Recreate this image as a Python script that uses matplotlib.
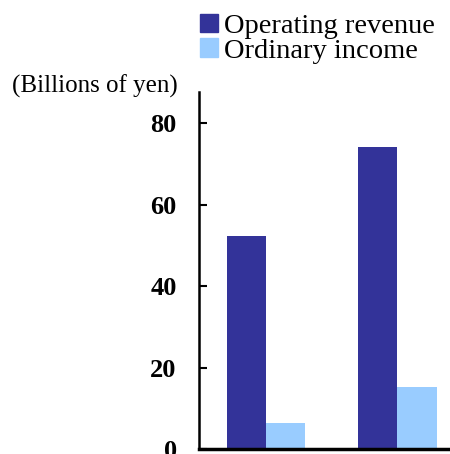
import matplotlib
matplotlib.use('Agg')
import matplotlib.pyplot as plt
from matplotlib.patches import Patch

# data
categories = ['Previous year', 'Current year']
series_names = ['Operating revenue', 'Ordinary income']
operating_revenue = [52.3, 74.2]
ordinary_income = [6.5, 15.3]
yticks = [0, 20, 40, 60, 80]

dark = '#333399'
light = '#99ccff'

plt.rcParams['font.family'] = ['Liberation Serif', 'DejaVu Serif']

fig = plt.figure(figsize=(4.5, 4.54), dpi=100)
ax = fig.add_axes([0.442, 0.011, 0.558, 0.786])

x = list(range(len(categories)))
w = 0.30
ax.bar([i - w / 2 for i in x], operating_revenue, width=w, color=dark)
ax.bar([i + w / 2 for i in x], ordinary_income, width=w, color=light)

ax.set_xlim(-0.51, 1.40)
ax.set_ylim(0, 87.7)
ax.set_xticks([])
ax.set_yticks(yticks)
ax.set_yticklabels([str(v) for v in yticks], fontsize=19, fontweight='bold')
ax.tick_params(axis='y', direction='in', length=6, width=1.5, pad=16)

for s in ['top', 'right']:
    ax.spines[s].set_visible(False)
ax.spines['left'].set_linewidth(1.8)
ax.spines['bottom'].set_linewidth(2.5)

fig.text(0.395, 0.81, '(Billions of yen)', fontsize=18, ha='right', va='center')

handles = [Patch(color=dark), Patch(color=light)]
fig.legend(handles, series_names, loc='upper left', bbox_to_anchor=(0.439, 0.976),
           frameon=False, fontsize=20.5, handlelength=0.63, handleheight=0.63,
           handletextpad=0.2, labelspacing=-0.03, borderaxespad=0, borderpad=0.1)

fig.savefig('out.png', dpi=100)
